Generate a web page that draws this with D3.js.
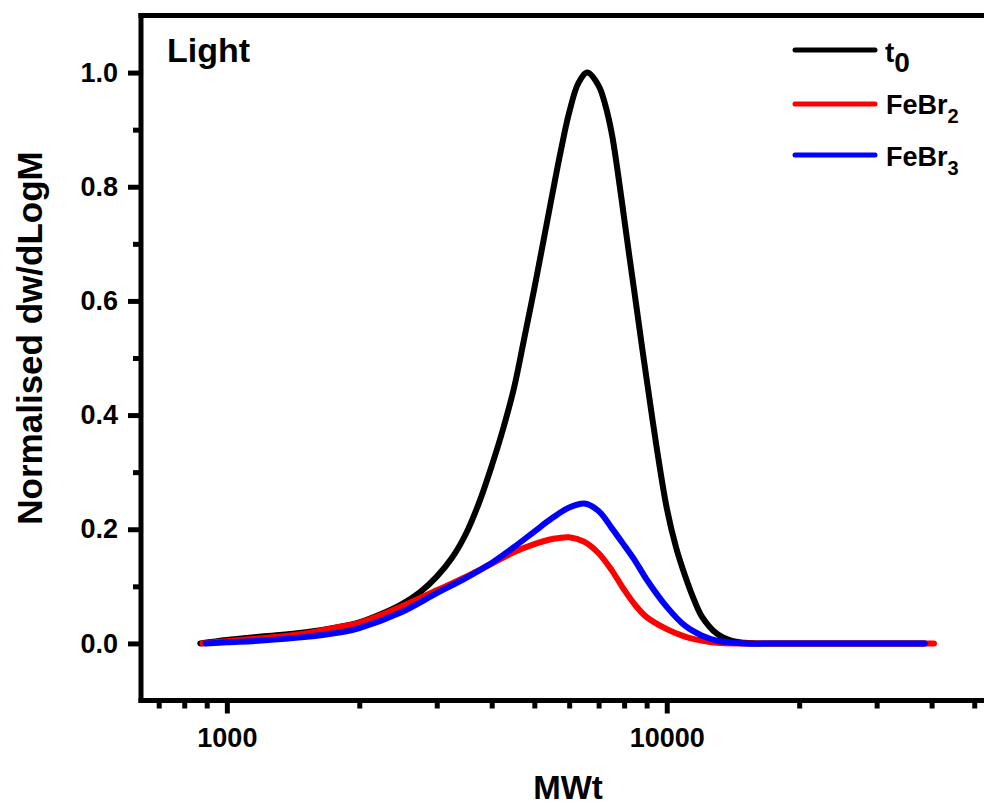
<!DOCTYPE html>
<html><head><meta charset="utf-8">
<script src="https://cdn.jsdelivr.net/npm/d3@7"></script>
<style>
body{margin:0;background:#fff}
svg{display:block}
text{font-family:"Liberation Sans",Arial,sans-serif;font-weight:bold;fill:#000}
</style>
</head><body>
<svg id="c" width="984" height="806"></svg>
<script>
// ---- data ----
const mwT0  = [870,1000,1200,1500,1800,2000,2250,2500,2750,3000,3250,3500,3750,4000,4250,4500,4750,5000,5250,5500,5750,6000,6300,6600,7000,7250,7500,7750,8000,8250,8500,8750,9000,9500,10000,10500,11000,11500,12000,13000,14000,15000,16000,20000,30000,38500];
const valT0 = [0,0.006,0.012,0.019,0.029,0.037,0.052,0.069,0.090,0.117,0.150,0.193,0.248,0.311,0.377,0.449,0.537,0.622,0.707,0.789,0.865,0.93,0.982,1.0,0.977,0.943,0.893,0.822,0.745,0.67,0.599,0.529,0.463,0.34,0.237,0.168,0.119,0.079,0.048,0.017,0.005,0.001,0,0,0,0];

const mwFeBr2  = [880,1000,1200,1500,1800,2000,2500,3000,3500,4000,4500,5000,5500,6000,6500,7000,7500,8000,8500,9000,10000,11000,12000,13000,15000,18000,20000,30000,40500];
const valFeBr2 = [0,0.004,0.009,0.017,0.029,0.036,0.065,0.093,0.117,0.14,0.16,0.174,0.183,0.186,0.178,0.158,0.128,0.094,0.066,0.046,0.025,0.012,0.005,0.001,0,0,0,0,0];

const mwFeBr3  = [895,1000,1200,1500,1800,2000,2500,3000,3500,4000,4500,5000,5500,6000,6500,7000,7500,8000,8500,9000,10000,11000,12000,13000,15000,18000,20000,30000,38600];
const valFeBr3 = [0,0.002,0.005,0.011,0.019,0.027,0.055,0.088,0.115,0.141,0.169,0.196,0.22,0.238,0.245,0.232,0.202,0.172,0.143,0.112,0.064,0.031,0.014,0.005,0,0,0,0,0];

const seriesNames  = ["t0","FeBr2","FeBr3"];
const seriesColors = ["#000000","#ff0000","#0000ff"];

const xMajorTicks = [1000,10000];
const xMinorTicks = [700,800,900,2000,3000,4000,5000,6000,7000,8000,9000,20000,30000,40000,50000];
const yMajorTicks = [0,0.2,0.4,0.6,0.8,1.0];
const yMinorTicks = [0.1,0.3,0.5,0.7,0.9];

const panelLabel = "Light";
const xTitle = "MWt";
const yTitle = "Normalised dw/dLogM";

// ---- drawing ----
const svg = d3.select("#c");
const L = 141, R = 990, T = 15.5, B = 700.5;
const x = d3.scaleLog().domain([638, 54300]).range([L, R]);
const y = d3.scaleLinear().domain([-0.1, 1.1]).range([B, T]);

const series = [
  {name: seriesNames[0], color: seriesColors[0], mw: mwT0, v: valT0},
  {name: seriesNames[1], color: seriesColors[1], mw: mwFeBr2, v: valFeBr2},
  {name: seriesNames[2], color: seriesColors[2], mw: mwFeBr3, v: valFeBr3}
];

const line = d3.line().x(d => x(d[0])).y(d => y(d[1])).curve(d3.curveCatmullRom.alpha(0.5));
series.forEach(s => {
  svg.append("path")
    .datum(s.mw.map((m, i) => [m, s.v[i]]))
    .attr("d", line)
    .attr("fill", "none")
    .attr("stroke", s.color)
    .attr("stroke-width", 6)
    .attr("stroke-linecap", "round")
    .attr("stroke-linejoin", "round");
});

// axes
function styleAxis(g) {
  g.select(".domain").remove();
  g.selectAll(".tick line").attr("stroke", "#000").attr("stroke-width", 5);
  g.selectAll(".tick text").style("font-size", "27px").style("font-family", "'Liberation Sans',Arial,sans-serif").style("font-weight", "bold");
}
svg.append("g").attr("transform", `translate(0,${B})`)
  .call(d3.axisBottom(x).tickValues(xMinorTicks).tickSize(8).tickFormat(""))
  .call(styleAxis);
svg.append("g").attr("transform", `translate(0,${B})`)
  .call(d3.axisBottom(x).tickValues(xMajorTicks).tickSize(13).tickPadding(14).tickFormat(d3.format("d")))
  .call(styleAxis);
svg.append("g").attr("transform", `translate(${L},0)`)
  .call(d3.axisLeft(y).tickValues(yMinorTicks).tickSize(8).tickFormat(""))
  .call(styleAxis);
svg.append("g").attr("transform", `translate(${L},0)`)
  .call(d3.axisLeft(y).tickValues(yMajorTicks).tickSize(13).tickPadding(10).tickFormat(d3.format(".1f")))
  .call(styleAxis);

// frame
const frame = svg.append("g").attr("stroke", "#000").attr("stroke-width", 5).attr("stroke-linecap", "square");
frame.append("line").attr("x1", L).attr("x2", L).attr("y1", T).attr("y2", B);
frame.append("line").attr("x1", L).attr("x2", R).attr("y1", B).attr("y2", B);
frame.append("line").attr("x1", L).attr("x2", R).attr("y1", T).attr("y2", T);

// titles
svg.append("text").attr("x", 568).attr("y", 799).attr("text-anchor", "middle")
  .style("font-size", "33px").text(xTitle);
svg.append("text").attr("transform", "translate(42,338) rotate(-90)").attr("text-anchor", "middle")
  .style("font-size", "35px").text(yTitle);
svg.append("text").attr("x", 167).attr("y", 62).style("font-size", "34px").text(panelLabel);

// legend
const legY = [50, 104, 155];
const leg = svg.append("g");
series.forEach((s, i) => {
  leg.append("line").attr("x1", 795).attr("x2", 875).attr("y1", legY[i]).attr("y2", legY[i])
    .attr("stroke", s.color).attr("stroke-width", 5).attr("stroke-linecap", "round");
});
// t0
const t1 = leg.append("text").attr("x", 885).attr("y", 62).style("font-size", "28px");
t1.append("tspan").text("t");
t1.append("tspan").attr("dy", 10).text("0");
// FeBr2
const t2 = leg.append("text").attr("x", 886).attr("y", 114).style("font-size", "27px");
t2.append("tspan").text("FeBr");
t2.append("tspan").attr("dy", 9).style("font-size", "20px").text("2");
// FeBr3
const t3 = leg.append("text").attr("x", 886).attr("y", 166).style("font-size", "27px");
t3.append("tspan").text("FeBr");
t3.append("tspan").attr("dy", 9).style("font-size", "20px").text("3");
</script>
</body></html>
